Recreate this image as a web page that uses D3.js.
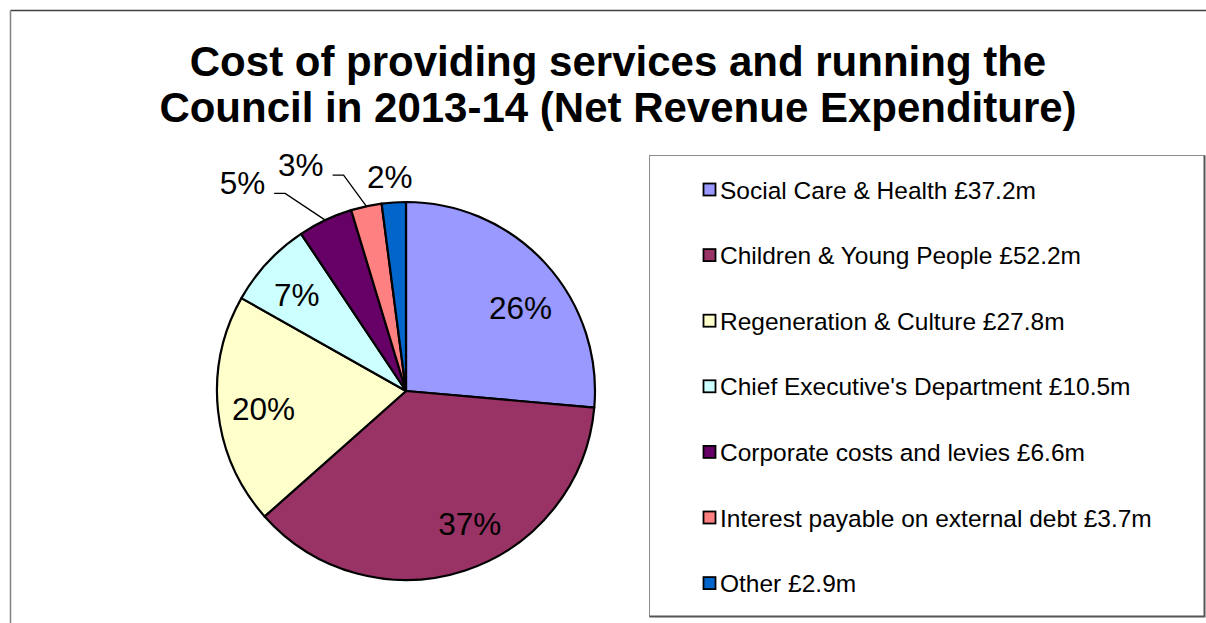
<!DOCTYPE html>
<html>
<head>
<meta charset="utf-8">
<script src="https://cdn.jsdelivr.net/npm/d3@7/dist/d3.min.js"></script>
<style>
  html, body { margin: 0; padding: 0; background: #fff; }
  svg { display: block; font-family: "Liberation Sans", Arial, Helvetica, sans-serif; }
</style>
</head>
<body>
<svg id="chart" width="1206" height="623"></svg>
<script>
// Net revenue expenditure 2013-14, £m
const categories = [
  "Social Care & Health",
  "Children & Young People",
  "Regeneration & Culture",
  "Chief Executive's Department",
  "Corporate costs and levies",
  "Interest payable on external debt",
  "Other"
];
const values = [37.2, 52.2, 27.8, 10.5, 6.6, 3.7, 2.9];
const colors = ["#9999FF", "#993366", "#FFFFCC", "#CCFFFF", "#660066", "#FF8080", "#0066CC"];
const titleLines = [
  "Cost of providing services and running the",
  "Council in 2013-14 (Net Revenue Expenditure)"
];

// Label placement: rotation (degrees) from the slice's mid-angle and
// distance from the centre as a fraction of the radius.
const labelAngleShift = [6.4, -7.4, -0.9, -1.5, -12.9, -12.8, -0.6];
const labelRadius = [0.75, 0.78, 0.76, 0.77, 1.40, 1.32, 1.14];

const W = 1206, H = 623;
const svg = d3.select("#chart");

// chart area frame
svg.append("rect").attr("width", W).attr("height", H).attr("fill", "#fff");
svg.append("line").attr("x1", 10.5).attr("y1", 10.5).attr("x2", W).attr("y2", 10.5)
  .attr("stroke", "#404040").attr("stroke-width", 1.5);
svg.append("line").attr("x1", 10.5).attr("y1", 10.5).attr("x2", 10.5).attr("y2", H)
  .attr("stroke", "#808080").attr("stroke-width", 1.5);

// title
const title = svg.append("text")
  .attr("text-anchor", "middle")
  .attr("font-weight", "bold")
  .attr("font-size", 42)
  .attr("fill", "#000");
titleLines.forEach((t, i) => {
  title.append("tspan").attr("x", 618).attr("y", 76 + i * 46).text(t);
});

// pie
const cx = 406, cy = 391, r = 189;
const total = d3.sum(values);
const data = categories.map((c, i) => ({ name: c, value: values[i], color: colors[i], i }));
const pie = d3.pie().sort(null).value(d => d.value).startAngle(0).endAngle(2 * Math.PI);
const arcs = pie(data);
const arc = d3.arc().innerRadius(0).outerRadius(r);

const g = svg.append("g").attr("transform", `translate(${cx},${cy})`);
g.selectAll("path.slice")
  .data(arcs)
  .join("path")
  .attr("class", "slice")
  .attr("d", arc)
  .attr("fill", d => d.data.color)
  .attr("stroke", "#000")
  .attr("stroke-width", 2.2)
  .attr("stroke-linejoin", "round");

const pctFmt = v => Math.round(v / total * 100) + "%";
const polar = (ang, rad) => [rad * Math.sin(ang), -rad * Math.cos(ang)];
const fs = 31.5;

arcs.forEach(a => {
  const i = a.data.i;
  const mid = (a.startAngle + a.endAngle) / 2;
  const ang = mid + labelAngleShift[i] * Math.PI / 180;
  const [lx, ly] = polar(ang, labelRadius[i] * r);
  const txt = g.append("text")
    .attr("x", lx).attr("y", ly)
    .attr("dy", "0.36em")
    .attr("text-anchor", "middle")
    .attr("font-size", fs)
    .attr("fill", "#000")
    .text(pctFmt(a.data.value));

  // leader line for callouts pushed well away from the slice
  if (labelRadius[i] > 1.2) {
    const tw = txt.node().getComputedTextLength();
    const right = lx + tw / 2;
    const base = ly + 0.36 * fs - 1;
    const [ax, ay] = polar(mid, r);
    g.append("polyline")
      .attr("points", [[right + 9, base], [right + 20, base], [ax, ay]].map(p => p.join(",")).join(" "))
      .attr("fill", "none")
      .attr("stroke", "#000")
      .attr("stroke-width", 1.3);
  }
});

// legend
const legX = 649.5, legY = 155.5, legW = 555, legH = 461;
svg.append("rect")
  .attr("x", legX).attr("y", legY).attr("width", legW).attr("height", legH)
  .attr("fill", "#fff").attr("stroke", "#8c8c8c").attr("stroke-width", 1);
svg.append("polyline")
  .attr("points", `${legX + legW},${legY} ${legX + legW},${legY + legH} ${legX},${legY + legH}`)
  .attr("fill", "none").attr("stroke", "#555").attr("stroke-width", 2);

const rowY = d3.scalePoint().domain(categories).range([190, 583.6]);
const leg = svg.append("g");
const items = leg.selectAll("g.item").data(data).join("g")
  .attr("class", "item")
  .attr("transform", d => `translate(0,${rowY(d.name)})`);
items.append("rect")
  .attr("x", 703.5).attr("y", -6.5).attr("width", 12).attr("height", 12)
  .attr("fill", d => d.color).attr("stroke", "#000").attr("stroke-width", 1.8);
items.append("text")
  .attr("x", 720).attr("y", 8.5)
  .attr("font-size", 24.5)
  .attr("fill", "#000")
  .text(d => `${d.name} £${d.value.toFixed(1)}m`);
</script>
</body>
</html>
